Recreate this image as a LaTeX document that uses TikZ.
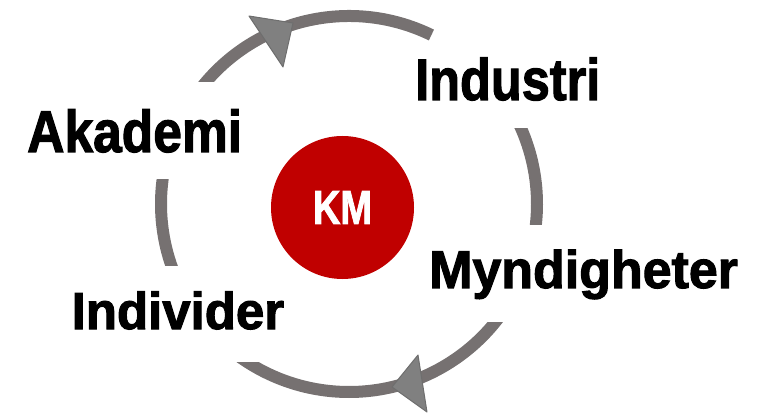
\documentclass[tikz,border=0pt]{standalone}
\usepackage{fontspec}
\setmainfont{Liberation Sans}[BoldFeatures={FakeBold=2}]
\usetikzlibrary{calc}
\definecolor{ringgray}{HTML}{767171}
\definecolor{headfill}{HTML}{808080}
\definecolor{headline}{HTML}{6E6E6E}
\definecolor{kmred}{HTML}{C00000}
\tikzset{
  ring/.style={draw=ringgray, line width=12pt},
  head/.style={fill=headfill, draw=headline, line width=1pt, line join=round},
  cyclelabel/.style={inner sep=0pt, anchor=base west, font=\bfseries},
  hub/.style={circle, fill=kmred, minimum size=143pt, inner sep=0pt, text=white,
    font=\bfseries\fontsize{47.5}{48}\selectfont}
}
\begin{document}
\begin{tikzpicture}[x=1pt,y=1pt]
\useasboundingbox (0,0) rectangle (769,413);
\coordinate (c) at (349,209);
% ring arcs
\begin{scope}
  \clip (0,331) -- (349,331) -- (349,300) -- (769,300) -- (769,413) -- (0,413) -- cycle;
  \draw[ring] ([shift={(145:188pt)}]c) arc[start angle=145,end angle=64,radius=188pt];
\end{scope}
\begin{scope}
  \clip (400,188) rectangle (769,284);
  \draw[ring] ([shift={(30:188pt)}]c) arc[start angle=30,end angle=-12,radius=188pt];
\end{scope}
\begin{scope}
  \clip (0,0) -- (0,51) -- (349,51) -- (349,91) -- (769,91) -- (769,0) -- cycle;
  \draw[ring] ([shift={(-30:188pt)}]c) arc[start angle=-30,end angle=-130,radius=188pt];
\end{scope}
\begin{scope}
  \clip (0,148) rectangle (300,233);
  \draw[ring] ([shift={(205:188pt)}]c) arc[start angle=205,end angle=165,radius=188pt];
\end{scope}
% arrowheads
\coordinate (t1) at (293,390);
\coordinate (b1a) at (249,397);
\coordinate (b1b) at (283,346);
\draw[head] (t1) -- (b1a) -- (b1b) -- cycle;
\coordinate (t2) at (392,26);
\coordinate (b2a) at (418,58);
\coordinate (b2b) at (427,1);
\draw[head] (t2) -- (b2a) -- (b2b) -- cycle;
% hub
\node[hub] (km) at (342.5,205.5) {\scalebox{0.8}[1]{KM}};
% labels
\node[cyclelabel] (akademi) at (27,261) {\fontsize{59}{59}\selectfont\scalebox{0.874}[1]{Akademi}};
\node[cyclelabel] (industri) at (415,313) {\fontsize{58.7}{59}\selectfont\scalebox{0.86}[1]{Industri}};
\node[cyclelabel] (myndigheter) at (429,125) {\fontsize{53}{53}\selectfont\scalebox{0.98}[1]{Myndigheter}};
\node[cyclelabel] (individer) at (71.5,84) {\fontsize{52}{52}\selectfont\scalebox{0.98}[1]{Individer}};
\end{tikzpicture}
\end{document}
